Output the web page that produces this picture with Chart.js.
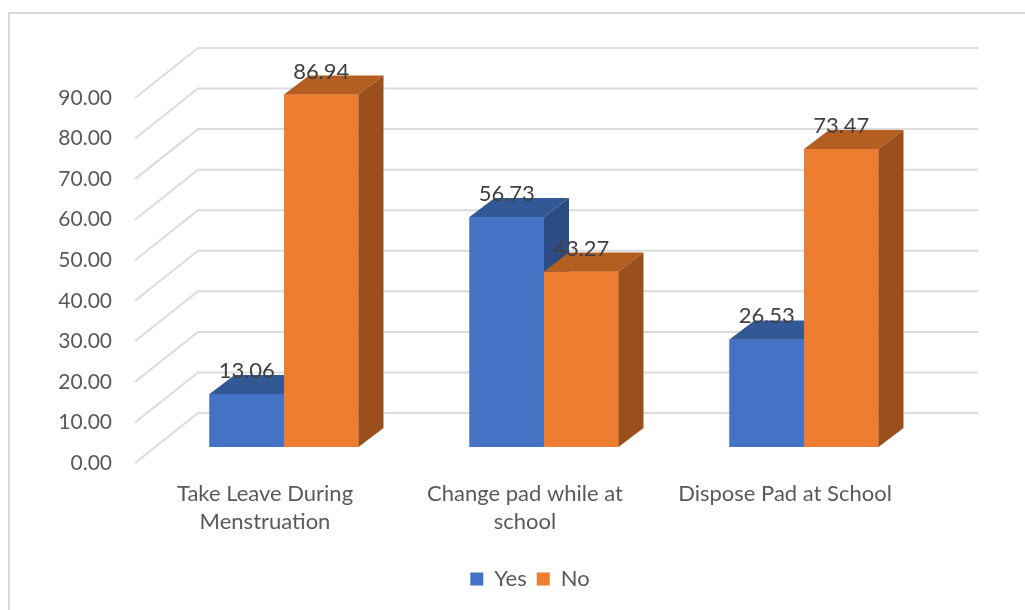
<!DOCTYPE html>
<html>
<head>
<meta charset="utf-8">
<script src="https://cdn.jsdelivr.net/npm/chart.js@4.4.1/dist/chart.umd.min.js"></script>
<style>
  html, body { margin: 0; padding: 0; background: #fff; }
  canvas { display: block; }
</style>
</head>
<body>
<canvas id="padChart" width="1025" height="610"></canvas>
<script>
const categories = [
  ['Take Leave During', 'Menstruation'],
  ['Change pad while at', 'school'],
  'Dispose Pad at School'
];
const yesValues = [13.06, 56.73, 26.53];
const noValues = [86.94, 43.27, 73.47];

// 3D look: wall depth, where the bars sit inside it, and how deep they are
const WALL = { x: 63, y: -50 };
const SHIFT = { x: 19, y: -16 };
const BAR_DEPTH = { x: 25, y: -19 };

const faces = [
  { front: '#4472C4', top: '#335896', side: '#2B4C85' },
  { front: '#ED7D31', top: '#B55E21', side: '#9A4F1D' }
];
const textColor = '#595959';
const font = 'Lato, "Open Sans", sans-serif';

function poly(ctx, pts, color) {
  ctx.beginPath();
  ctx.moveTo(pts[0][0], pts[0][1]);
  for (let i = 1; i < pts.length; i++) ctx.lineTo(pts[i][0], pts[i][1]);
  ctx.closePath();
  ctx.fillStyle = color;
  ctx.fill();
}

const frame = {
  id: 'frame',
  beforeDraw(chart) {
    const ctx = chart.ctx;
    ctx.save();
    ctx.fillStyle = '#fff';
    ctx.fillRect(0, 0, chart.width, chart.height);
    ctx.strokeStyle = '#D9D9D9';
    ctx.lineWidth = 2;
    ctx.beginPath();
    ctx.moveTo(9, chart.height);
    ctx.lineTo(9, 13);
    ctx.lineTo(chart.width, 13);
    ctx.stroke();
    ctx.restore();
  }
};

const bars3d = {
  id: 'bars3d',
  beforeDatasetsDraw(chart) {
    const ctx = chart.ctx;
    const y = chart.scales.y;
    const area = chart.chartArea;
    // side wall diagonals and back wall gridlines
    ctx.save();
    ctx.strokeStyle = '#DCDCDC';
    ctx.lineWidth = 2;
    y.ticks.forEach(t => {
      const py = y.getPixelForValue(t.value);
      ctx.beginPath();
      ctx.moveTo(area.left, py);
      ctx.lineTo(area.left + WALL.x, py + WALL.y);
      ctx.lineTo(area.right + WALL.x, py + WALL.y);
      ctx.stroke();
    });
    ctx.restore();
    ctx.save();
    ctx.translate(SHIFT.x, SHIFT.y);
  },
  afterDatasetsDraw(chart) {
    const ctx = chart.ctx;
    const metas = chart.data.datasets.map((d, i) => chart.getDatasetMeta(i));
    categories.forEach((c, i) => {
      metas.forEach((meta, d) => {
        const bar = meta.data[i];
        const l = bar.x - bar.width / 2, r = bar.x + bar.width / 2;
        const top = bar.y, base = bar.base;
        const f = faces[d];
        poly(ctx, [[l, top], [r, top], [r, base], [l, base]], f.front);
        poly(ctx, [[l, top], [l + BAR_DEPTH.x, top + BAR_DEPTH.y],
          [r + BAR_DEPTH.x, top + BAR_DEPTH.y], [r, top]], f.top);
        poly(ctx, [[r, top], [r + BAR_DEPTH.x, top + BAR_DEPTH.y],
          [r + BAR_DEPTH.x, base + BAR_DEPTH.y], [r, base]], f.side);
      });
    });
    // value labels
    ctx.fillStyle = '#404040';
    ctx.font = '22px ' + font;
    ctx.textAlign = 'center';
    ctx.textBaseline = 'middle';
    metas.forEach((meta, d) => {
      meta.data.forEach((bar, i) => {
        const v = chart.data.datasets[d].data[i];
        ctx.fillText(v.toFixed(2), bar.x, bar.y - 23);
      });
    });
    ctx.restore();
  }
};

new Chart(document.getElementById('padChart'), {
  type: 'bar',
  data: {
    labels: categories,
    datasets: [
      { label: 'Yes', data: yesValues, backgroundColor: faces[0].front, borderWidth: 0 },
      { label: 'No', data: noValues, backgroundColor: faces[1].front, borderWidth: 0 }
    ]
  },
  options: {
    responsive: false,
    animation: false,
    layout: { padding: { left: 35, right: 0, top: 98, bottom: 10 } },
    datasets: { bar: { categoryPercentage: 0.573, barPercentage: 1, clip: false } },
    scales: {
      x: {
        grid: { display: false, drawTicks: false },
        border: { display: false },
        ticks: { color: textColor, padding: 17, font: { family: font, size: 22, lineHeight: 1.27 }, maxRotation: 0 },
        afterFit: s => { s.height = 95; }
      },
      y: {
        min: 0,
        max: 90,
        grid: { display: false, drawTicks: false },
        border: { display: false },
        ticks: {
          stepSize: 10,
          color: textColor,
          padding: 23,
          font: { family: font, size: 21 },
          callback: v => v.toFixed(2)
        },
        afterFit: s => { s.width = 100; }
      },
      // empty right-hand strip that keeps room for the back wall
      yRight: {
        position: 'right',
        grid: { display: false, drawTicks: false },
        border: { display: false },
        ticks: { display: false },
        afterFit: s => { s.width = 110; }
      }
    },
    plugins: {
      legend: {
        position: 'bottom',
        labels: { boxWidth: 13, boxHeight: 13, color: textColor, font: { family: font, size: 22 }, padding: 10 }
      },
      tooltip: { enabled: false }
    }
  },
  plugins: [frame, bars3d]
});
</script>
</body>
</html>
